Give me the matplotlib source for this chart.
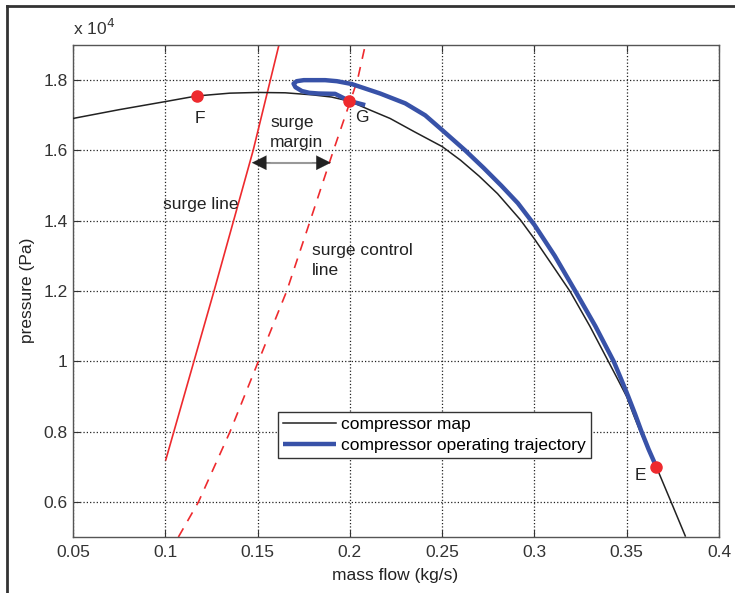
import matplotlib
matplotlib.use("Agg")
import matplotlib.pyplot as plt
from matplotlib.lines import Line2D

plt.rcParams['font.family'] = ['Liberation Sans', 'DejaVu Sans']

# compressor map (pressure in units of 1e4 Pa)
map_flow = [0.05, 0.075, 0.1, 0.117, 0.135, 0.15, 0.165, 0.18, 0.19, 0.2, 0.21,
            0.2218, 0.235, 0.25, 0.26, 0.27, 0.28, 0.2923, 0.3004, 0.31, 0.3194, 0.33,
            0.34, 0.345, 0.35, 0.3535, 0.3573, 0.362, 0.366, 0.374, 0.3817]
map_pres = [1.691, 1.716, 1.739, 1.755, 1.763, 1.765, 1.764, 1.758, 1.752, 1.740, 1.717,
            1.691, 1.653, 1.611, 1.572, 1.527, 1.477, 1.403, 1.345, 1.271, 1.198, 1.100,
            1.000, 0.950, 0.899, 0.850, 0.800, 0.745, 0.700, 0.600, 0.503]

# operating trajectory E -> loop -> G
traj_flow = [0.366, 0.3618, 0.358, 0.3545, 0.3508, 0.3469, 0.3429, 0.333, 0.3221, 0.311,
             0.300, 0.291, 0.282, 0.2725, 0.2625, 0.25, 0.2408, 0.23, 0.2164, 0.201,
             0.193, 0.1866, 0.175, 0.1712, 0.1695, 0.1705, 0.174, 0.178, 0.183, 0.192,
             0.1947, 0.1996, 0.2083]
traj_pres = [0.700, 0.750, 0.800, 0.850, 0.900, 0.950, 1.000, 1.100, 1.200, 1.300,
             1.388, 1.450, 1.500, 1.550, 1.600, 1.658, 1.700, 1.734, 1.762, 1.789,
             1.797, 1.800, 1.800, 1.797, 1.790, 1.780, 1.769, 1.764, 1.762, 1.761,
             1.754, 1.741, 1.729]

surge_flow = [0.1003, 0.1264, 0.1476, 0.1625]
surge_pres = [0.72, 1.2, 1.6, 1.92]

ctrl_flow = [0.1071, 0.118, 0.1351, 0.1658, 0.1785, 0.1911, 0.2041, 0.2092]
ctrl_pres = [0.5, 0.6, 0.8, 1.2, 1.4, 1.6, 1.8, 1.92]

pt_names = ['F', 'G', 'E']
pt_flow = [0.117, 0.1996, 0.366]
pt_pres = [1.755, 1.741, 0.700]

xticks = [0.05, 0.1, 0.15, 0.2, 0.25, 0.3, 0.35, 0.4]
xticklabels = ['0.05', '0.1', '0.15', '0.2', '0.25', '0.3', '0.35', '0.4']
yticks = [0.6, 0.8, 1.0, 1.2, 1.4, 1.6, 1.8]
yticklabels = ['0.6', '0.8', '1', '1.2', '1.4', '1.6', '1.8']

red = '#ee2a2e'
blue = '#3852a8'
fs = 12.5

fig = plt.figure(figsize=(7.35, 5.93), dpi=100)
ax = fig.add_axes([0.0993, 0.0944, 0.879, 0.8297])

ax.plot(map_flow, map_pres, color='#222222', lw=1.1, label='compressor map', zorder=3)
ax.plot(traj_flow, traj_pres, color=blue, lw=3.2, label='compressor operating trajectory',
        solid_capstyle='butt', solid_joinstyle='round', zorder=4)
ax.plot(surge_flow, surge_pres, color=red, lw=1.2, zorder=2)
ax.plot(ctrl_flow, ctrl_pres, color=red, lw=1.2, ls=(0, (6, 5)), zorder=2)
ax.plot(pt_flow, pt_pres, 'o', color=red, ms=8, zorder=5)

# point names
offs = {'F': (0.002, -0.065), 'G': (0.007, -0.046), 'E': (-0.0086, -0.024)}
for n, xv, yv in zip(pt_names, pt_flow, pt_pres):
    ax.text(xv + offs[n][0], yv + offs[n][1], n, fontsize=fs, color='#222222',
            ha='center', va='center')

# surge margin arrow
ya = 1.565
ax.plot([0.149, 0.187], [ya, ya], color='#999999', lw=1.5, zorder=3)
ax.annotate('', xy=(0.1469, ya), xytext=(0.157, ya),
            arrowprops=dict(arrowstyle='-|>', color='#222222', mutation_scale=26, lw=0.1,
                            shrinkA=0, shrinkB=0))
ax.annotate('', xy=(0.1897, ya), xytext=(0.1795, ya),
            arrowprops=dict(arrowstyle='-|>', color='#222222', mutation_scale=26, lw=0.1,
                            shrinkA=0, shrinkB=0))

ax.text(0.1568, 1.652, 'surge\nmargin', fontsize=fs, color='#222222', va='center',
        ha='left', linespacing=1.4)
ax.text(0.0985, 1.445, 'surge line', fontsize=fs, color='#222222', va='center', ha='left')
ax.text(0.1795, 1.286, 'surge control\nline', fontsize=fs, color='#222222', va='center',
        ha='left', linespacing=1.4)

ax.set_xlim(0.05, 0.4)
ax.set_ylim(0.5, 1.9)
ax.set_xticks(xticks)
ax.set_xticklabels(xticklabels)
ax.set_yticks(yticks)
ax.set_yticklabels(yticklabels)
ax.tick_params(direction='in', top=True, right=True, labelsize=fs, length=5,
               colors='#333333', labelcolor='#333333')
ax.tick_params(axis='x', pad=6)
ax.tick_params(axis='y', pad=4)
ax.grid(True, ls=':', color='#222222', lw=0.9)
for s in ax.spines.values():
    s.set_color('#555555')
    s.set_linewidth(1.0)

ax.set_xlabel('mass flow (kg/s)', fontsize=fs, color='#222222')
ax.set_ylabel('pressure (Pa)', fontsize=fs, color='#222222')
ax.xaxis.set_label_coords(0.498, -0.062)
ax.yaxis.set_label_coords(-0.059, 0.502)
ax.text(0.0, 1.014, 'x 10$^4$', transform=ax.transAxes, fontsize=fs, color='#333333',
        ha='left', va='bottom')

leg = ax.legend(loc='lower left', bbox_to_anchor=(0.317, 0.16), fontsize=fs,
                handlelength=3.05, fancybox=False, framealpha=1, borderaxespad=0,
                borderpad=0.3, labelspacing=0.35, handletextpad=0.3)
leg.get_frame().set_edgecolor('#333333')
leg.get_frame().set_linewidth(1.0)

# outer frame of the figure (partially cropped)
fx = 7 / 735
fy = 1 - 6 / 593
fig.add_artist(Line2D([fx, 1.0], [fy, fy], transform=fig.transFigure, color='#333333', lw=2))
fig.add_artist(Line2D([fx, fx], [0.0, fy], transform=fig.transFigure, color='#333333', lw=2))

fig.savefig('out.png', dpi=100)
